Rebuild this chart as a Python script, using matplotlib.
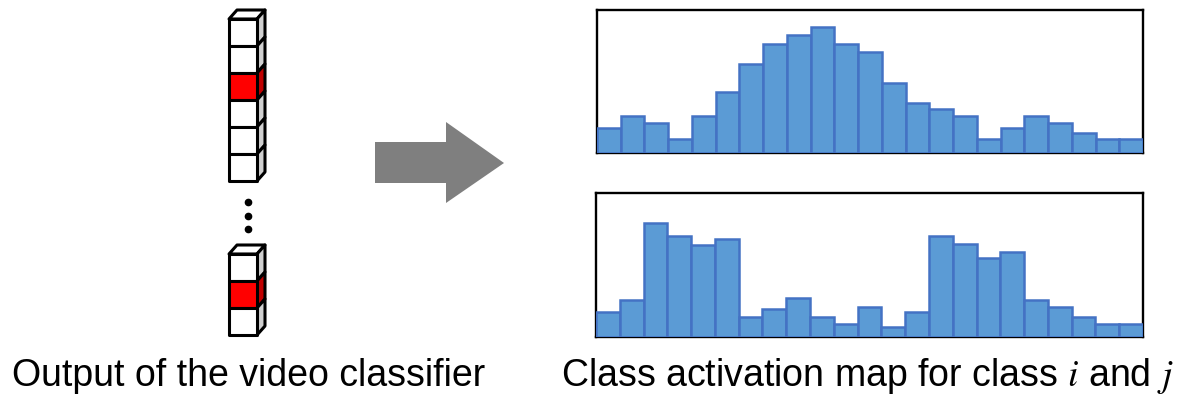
import matplotlib
matplotlib.use("Agg")
import matplotlib.pyplot as plt
from matplotlib.patches import Polygon, Rectangle
import numpy as np

# Activation values (fraction of the box height), 23 bins each
cam_i = [0.174, 0.258, 0.212, 0.098, 0.258, 0.430, 0.621, 0.760, 0.823, 0.879, 0.760, 0.705,
         0.488, 0.349, 0.305, 0.258, 0.098, 0.174, 0.258, 0.212, 0.140, 0.098, 0.098]
cam_j = [0.171, 0.257, 0.790, 0.701, 0.640, 0.682, 0.136, 0.194, 0.269, 0.136, 0.093, 0.210,
         0.070, 0.171, 0.701, 0.643, 0.549, 0.593, 0.257, 0.208, 0.136, 0.093, 0.093]

# Cells of the classifier output column (top stack and bottom stack)
stack_top = ['white', 'white', 'red', 'white', 'white', 'white']
stack_bottom = ['white', 'red', 'white']

label_left = "Output of the video classifier"
label_right = r"Class activation map for class $i$ and $j$"

W, H = 1179, 394
fig = plt.figure(figsize=(W / 100, H / 100), dpi=100)
fig.patch.set_facecolor('white')

# full-figure axes in pixel coordinates
ax = fig.add_axes([0, 0, 1, 1])
ax.set_xlim(0, W)
ax.set_ylim(H, 0)
ax.axis('off')

side_col = {'white': '#D0D0D0', 'red': '#C00000'}
front_col = {'white': 'white', 'red': '#FF0000'}


def draw_stack(x0, y0, cells, cw=28, ch=27, dx=8, dy=9):
    lw = 2.2
    # top face
    ax.add_patch(Polygon([(x0, y0), (x0 + dx, y0 - dy), (x0 + cw + dx, y0 - dy), (x0 + cw, y0)],
                         closed=True, facecolor='white', edgecolor='black', lw=lw, joinstyle='round'))
    for k, c in enumerate(cells):
        yt = y0 + k * ch
        ax.add_patch(Polygon([(x0 + cw, yt), (x0 + cw + dx, yt - dy), (x0 + cw + dx, yt + ch - dy),
                              (x0 + cw, yt + ch)], closed=True, facecolor=side_col[c],
                             edgecolor='black', lw=lw, joinstyle='round'))
        ax.add_patch(Rectangle((x0, yt), cw, ch, facecolor=front_col[c], edgecolor='black',
                               lw=lw, joinstyle='round'))


draw_stack(229, 19, stack_top)
draw_stack(229, 254, stack_bottom)

# vertical dots
for yy in [202, 216, 229]:
    ax.plot(248, yy, 'o', color='black', ms=4.5)

# arrow
ax.add_patch(Polygon([(375, 142), (446, 142), (446, 122), (504, 163), (446, 203), (446, 183), (375, 183)],
                     closed=True, facecolor='#7F7F7F', edgecolor='none'))

plt.rcParams['mathtext.fontset'] = 'stix'
ax.text(249, 386, label_left, ha='center', va='baseline', fontsize=27, family='Liberation Sans')
ax.text(867, 386, label_right, ha='center', va='baseline', fontsize=27, family='Liberation Sans')


def cam_axes(left, top, right, bottom, vals):
    a = fig.add_axes([left / W, 1 - bottom / H, (right - left) / W, (bottom - top) / H])
    a.bar(np.arange(len(vals)), vals, width=1, align='edge', color='#5B9BD5',
          edgecolor='#4472C4', linewidth=1.8, zorder=3)
    a.set_xlim(0, len(vals))
    a.set_ylim(0, 1)
    a.set_xticks([])
    a.set_yticks([])
    for s in a.spines.values():
        s.set_linewidth(1.7)
        s.set_color('black')
    return a


cam_axes(597, 10, 1143, 153, cam_i)
cam_axes(596, 193, 1143, 337, cam_j)

fig.savefig('out.png', dpi=100)
